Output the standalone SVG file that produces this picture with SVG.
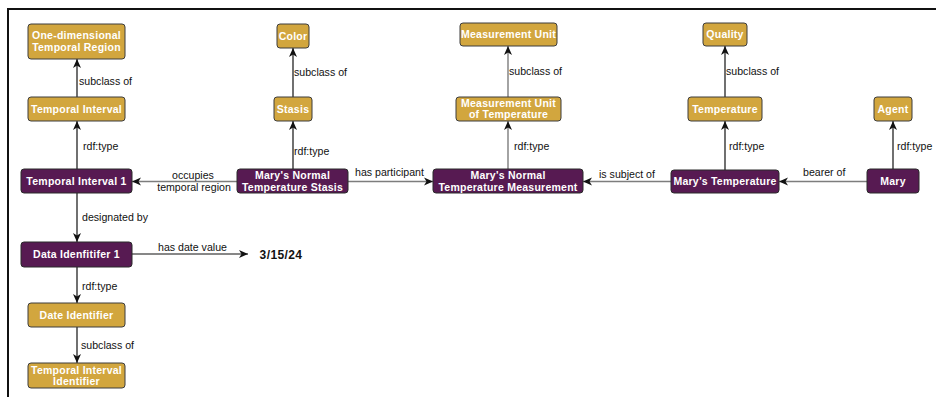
<svg xmlns="http://www.w3.org/2000/svg" width="936" height="397" viewBox="0 0 936 397">
<defs>
<marker id="arr" markerUnits="userSpaceOnUse" markerWidth="10" markerHeight="9" refX="9" refY="4" orient="auto" overflow="visible">
<path d="M0,0 L9,4 L0,8 L2.5,4 Z" fill="#111"/>
</marker>
<style>
.cls rect{fill:#D2A63E;stroke:#3d3d3d;stroke-width:1}
.ind rect{fill:#571A52;stroke:#2a2a2a;stroke-width:1}
.node text{font-family:"Liberation Sans",Arial,sans-serif;font-weight:bold;font-size:10.5px;fill:#fff;text-anchor:middle;letter-spacing:0.25px}
.edge{fill:none;stroke:#111;stroke-width:1.2;marker-end:url(#arr)}
.gray{stroke:#7d7d7d;stroke-width:1.4}
.lbl{font-family:"Liberation Sans",Arial,sans-serif;font-size:10.6px;fill:#111}
.lblc{text-anchor:middle}
</style>
</defs>
<rect x="0" y="0" width="936" height="397" fill="#fff"/>
<path d="M8,397 V9 H936" fill="none" stroke="#111" stroke-width="2"/>

<g id="connectors">
<line class="edge" x1="77" y1="97" x2="77" y2="59"/>
<line class="edge" x1="77" y1="169" x2="77" y2="121"/>
<line class="edge gray" x1="237" y1="181.5" x2="132" y2="181.5"/>
<line class="edge" x1="293" y1="97" x2="293" y2="48"/>
<line class="edge" x1="293" y1="169" x2="293" y2="121"/>
<line class="edge gray" x1="348" y1="181.5" x2="433" y2="181.5"/>
<line class="edge gray" x1="508" y1="97" x2="508" y2="46"/>
<line class="edge gray" x1="508" y1="169" x2="508" y2="121"/>
<line class="edge gray" x1="671" y1="181.5" x2="583" y2="181.5"/>
<line class="edge" x1="725" y1="97" x2="725" y2="46"/>
<line class="edge" x1="725" y1="170" x2="725" y2="121"/>
<line class="edge gray" x1="867" y1="181.5" x2="779" y2="181.5"/>
<line class="edge" x1="893" y1="169" x2="893" y2="121"/>
<line class="edge" x1="77" y1="193" x2="77" y2="242"/>
<line class="edge" x1="132" y1="254" x2="248" y2="254"/>
<line class="edge" x1="77" y1="267" x2="77" y2="303"/>
<line class="edge" x1="77" y1="327" x2="77" y2="363"/>

<text class="lbl" x="79" y="84.5">subclass of</text>
<text class="lbl" x="83" y="149.5">rdf:type</text>
<text class="lbl lblc" x="193" y="179">occupies</text>
<text class="lbl lblc" x="194" y="190.5">temporal region</text>
<text class="lbl" x="294" y="75.5">subclass of</text>
<text class="lbl" x="294" y="154.5">rdf:type</text>
<text class="lbl" x="355" y="175.5">has participant</text>
<text class="lbl" x="509" y="74.5">subclass of</text>
<text class="lbl" x="514" y="149.5">rdf:type</text>
<text class="lbl" x="599" y="177.5">is subject of</text>
<text class="lbl" x="726" y="74.5">subclass of</text>
<text class="lbl" x="729" y="149.5">rdf:type</text>
<text class="lbl" x="803" y="175.5">bearer of</text>
<text class="lbl" x="897" y="149.5">rdf:type</text>
<text class="lbl" x="82" y="220.5">designated by</text>
<text class="lbl" x="158" y="250.5">has date value</text>
<text class="lbl" x="82" y="289.5">rdf:type</text>
<text class="lbl" x="81" y="348.5">subclass of</text>
</g>

<g id="n_odtr" class="node cls"><rect x="28" y="24" width="97" height="35" rx="3"/><text x="76.5" y="39">One-dimensional</text><text x="76.5" y="51">Temporal Region</text></g>
<g id="n_ti" class="node cls"><rect x="28" y="97" width="97" height="24" rx="3"/><text x="76.5" y="112.7">Temporal Interval</text></g>
<g id="n_ti1" class="node ind"><rect x="21" y="169" width="111" height="24" rx="3"/><text x="76.5" y="184.7">Temporal Interval 1</text></g>
<g id="n_color" class="node cls"><rect x="277" y="24" width="32" height="24" rx="3"/><text x="293" y="39.7">Color</text></g>
<g id="n_stasis" class="node cls"><rect x="274" y="97" width="38" height="24" rx="3"/><text x="293" y="112.7">Stasis</text></g>
<g id="n_mnts" class="node ind"><rect x="237" y="169" width="111" height="24" rx="3"/><text x="292.5" y="179">Mary's Normal</text><text x="292.5" y="190.5">Temperature Stasis</text></g>
<g id="n_mu" class="node cls"><rect x="460" y="23" width="97" height="23" rx="3"/><text x="508.5" y="38.2">Measurement Unit</text></g>
<g id="n_muot" class="node cls"><rect x="456" y="97" width="105" height="24" rx="3"/><text x="508.5" y="106.5">Measurement Unit</text><text x="508.5" y="118">of Temperature</text></g>
<g id="n_mntm" class="node ind"><rect x="433" y="169" width="150" height="24" rx="3"/><text x="508" y="179">Mary's Normal</text><text x="508" y="190.5">Temperature Measurement</text></g>
<g id="n_quality" class="node cls"><rect x="703" y="23" width="44" height="23" rx="3"/><text x="725" y="38.2">Quality</text></g>
<g id="n_temp" class="node cls"><rect x="688" y="97" width="74" height="24" rx="3"/><text x="725" y="112.7">Temperature</text></g>
<g id="n_agent" class="node cls"><rect x="874" y="97" width="38" height="24" rx="3"/><text x="893" y="112.7">Agent</text></g>
<g id="n_mt" class="node ind"><rect x="671" y="170" width="108" height="23" rx="3"/><text x="725" y="185.2">Mary’s Temperature</text></g>
<g id="n_mary" class="node ind"><rect x="867" y="169" width="52" height="24" rx="3"/><text x="893" y="184.7">Mary</text></g>
<g id="n_di1" class="node ind"><rect x="21" y="242" width="111" height="25" rx="3"/><text x="76.5" y="258.2">Data Idenfitifer 1</text></g>
<g id="n_date" class="node"><text x="281" y="258.5" style="fill:#111;font-size:12px;letter-spacing:0.4px">3/15/24</text></g>
<g id="n_dateid" class="node cls"><rect x="28" y="303" width="97" height="24" rx="3"/><text x="76.5" y="318.7">Date Identifier</text></g>
<g id="n_tii" class="node cls"><rect x="28" y="363" width="97" height="25" rx="3"/><text x="76.5" y="373.5">Temporal Interval</text><text x="76.5" y="385">Identifier</text></g>
</svg>
